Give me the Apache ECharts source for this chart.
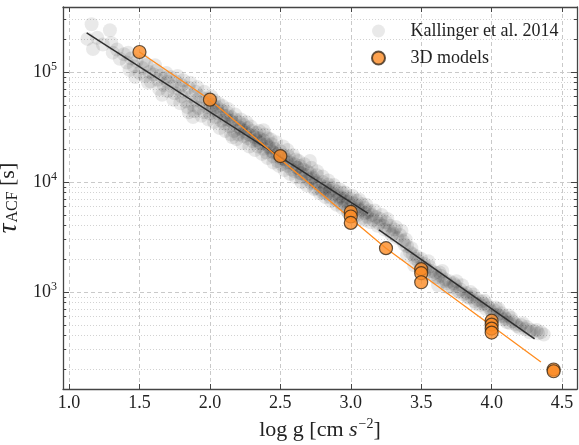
<!DOCTYPE html>
<html>
<head>
<meta charset="utf-8">
<script src="https://cdn.jsdelivr.net/npm/echarts@6/dist/echarts.min.js"></script>
<style>
html,body{margin:0;padding:0;background:#fff;}
#chart{width:579px;height:445px;}
</style>
</head>
<body>
<div id="chart"></div>
<script>
// ---------- data ----------
const xTicks = [1.0, 1.5, 2.0, 2.5, 3.0, 3.5, 4.0, 4.5];
const yMajorTicks = [1000, 10000, 100000];
const xRange = [0.957, 4.606];
const yRange = [131, 390000];

// Kallinger et al. 2014 : [log g, tau_ACF (s)]
const kallinger = [
[1.13,200000],[1.16,272000],[1.17,162000],[1.2,205000],[1.24,178000],[1.29,240000],[1.3,184000],[1.31,150000],[1.34,160000],[1.36,132000],
[1.39,145000],[1.41,122000],[1.43,104000],[1.44,133000],[1.46,113000],[1.48,126000],[1.5,98000],[1.52,109000],[1.54,92000],[1.55,116000],
[1.57,100000],[1.58,82000],[1.6,95000],[1.62,103000],[1.63,85000],[1.64,70000],[1.65,93000],[1.67,76000],[1.68,88000],[1.7,81000],
[1.7,67000],[1.72,90000],[1.73,74000],[1.75,64000],[1.76,82000],[1.78,70000],[1.8,60000],[1.8,76000],[1.82,66000],[1.83,54000],
[1.85,72000],[1.85,43000],[1.87,60000],[1.88,50000],[1.88,39000],[1.9,66000],[1.9,55000],[1.92,47000],[1.93,60000],[1.95,52000],
[1.96,43000],[1.97,57000],[1.98,48000],[2.0,52000],[2.0,42000],[2.02,46000],[2.03,55000],[2.04,39000],[2.05,48000],[2.06,42000],
[2.08,36000],[2.08,45000],[2.1,40000],[2.1,34000],[2.12,43000],[2.12,37000],[2.14,32000],[2.15,39000],[2.16,35000],[2.16,25500],
[2.17,29000],[2.18,37000],[2.2,32000],[2.2,27000],[2.21,35000],[2.22,30000],[2.24,26000],[2.24,33000],[2.25,29000],[2.27,31000],
[2.27,25000],[2.28,27000],[2.3,29000],[2.3,23500],[2.31,26000],[2.33,24000],[2.33,28000],[2.34,21000],[2.35,25000],[2.36,22500],
[2.38,24000],[2.38,20000],[2.38,29500],[2.4,22000],[2.4,18500],[2.41,25000],[2.42,20500],[2.44,19000],[2.44,22000],[2.45,17000],
[2.46,20000],[2.48,18000],[2.48,15500],[2.5,19000],[2.5,16500],[2.51,14500],[2.52,17500],[2.54,16000],[2.55,14000],[2.56,17000],
[2.57,15000],[2.58,13000],[2.6,14500],[2.6,12500],[2.61,16000],[2.62,13500],[2.64,12000],[2.64,14000],[2.65,11000],[2.66,13000],
[2.68,11500],[2.69,12500],[2.7,10500],[2.71,12000],[2.71,15500],[2.72,9800],[2.73,11000],[2.75,10200],[2.75,8800],[2.76,11500],
[2.78,9500],[2.79,8500],[2.8,10000],[2.8,8000],[2.82,9000],[2.83,7800],[2.84,9500],[2.85,8300],[2.86,7200],[2.87,8800],
[2.88,7700],[2.9,8200],[2.9,6800],[2.92,7400],[2.93,6400],[2.94,8000],[2.95,7000],[2.96,6200],[2.97,7300],[2.98,6600],
[2.98,5500],[3.0,7000],[3.0,6000],[3.02,6400],[3.03,5600],[3.04,6800],[3.05,6000],[3.05,5000],[3.07,5500],[3.08,6300],
[3.1,5200],[3.1,5800],[3.1,4500],[3.12,4800],[3.13,5500],[3.15,5000],[3.16,4500],[3.18,4800],[3.2,4200],[3.21,4600],
[3.23,4000],[3.25,4300],[3.27,3600],[3.28,4000],[3.3,3400],[3.31,3700],[3.33,3100],[3.35,3300],[3.37,2900],[3.38,2700],
[3.4,2600],[3.4,2150],[3.42,2300],[3.44,2200],[3.45,1750],[3.46,2000],[3.48,1900],[3.5,2000],[3.5,1700],[3.52,1800],
[3.52,1450],[3.54,1600],[3.55,1900],[3.56,1700],[3.58,1450],[3.6,1500],[3.62,1350],[3.62,1150],[3.64,1400],[3.65,1550],
[3.66,1250],[3.68,1200],[3.7,1250],[3.72,1100],[3.74,1150],[3.75,1250],[3.76,1020],[3.78,1050],[3.8,950],[3.82,980],
[3.84,880],[3.85,1000],[3.86,900],[3.88,820],[3.9,850],[3.92,760],[3.94,780],[3.95,830],[3.96,700],[3.98,720],
[4.0,660],[4.02,680],[4.04,620],[4.05,700],[4.06,600],[4.08,560],[4.1,570],[4.12,610],[4.13,520],[4.15,540],
[4.18,490],[4.2,470],[4.22,520],[4.24,460],[4.27,430],[4.3,440],[4.33,420],[4.37,410],
[1.42,150000],[1.47,90000],[1.53,125000],[1.56,80000],[1.61,115000],[1.66,62000],[1.69,98000],[1.74,56000],[1.77,92000],[1.79,52000],
[1.81,84000],[1.84,48000],[1.86,80000],[1.89,44000],[1.91,73000],[1.94,40000],[1.96,66000],[1.99,37000],[2.01,60000],[2.03,35000],
[2.06,52000],[2.07,31000],[2.09,49000],[2.11,29000],[2.13,46000],[2.15,27000],[2.18,41000],[2.19,24500],[2.22,37000],[2.23,22500],
[2.26,35000],[2.28,21000],[2.29,32000],[2.32,19500],[2.35,29000],[2.37,18000],[2.39,27000],[2.41,16500],[2.43,24500],[2.45,15000],
[2.47,23000],[2.49,14000],[2.52,21000],[2.53,12800],[2.55,19500],[2.57,11800],[2.59,17500],[2.61,11000],[2.63,15500],[2.65,10000],
[2.67,14500],[2.69,9300],[2.72,13500],[2.74,8600],[2.76,12500],[2.78,7900],[2.8,11200],[2.82,7300],[2.84,10300],[2.86,6700],
[2.88,9400],[2.9,6200],[2.92,8600],[2.94,5800],[2.96,8000],[2.98,5300],[3.01,7500],[3.03,5000],[3.06,6900],[3.08,4700],
[3.11,6200],[3.14,4300],[3.17,5500],[3.19,4000],[3.22,5000],[3.24,3700],[3.26,4600],[3.29,3300],[3.32,3900],[3.36,3600],
[3.39,3000],
[2.05,45000],[2.15,36000],[2.25,28000],[2.35,23000],[2.45,18500],[2.55,15000],[2.65,12000],[2.75,9800],[2.85,8000],[2.95,6700],
[3.05,5700],[2.02,50000],[2.22,31000],[2.42,21000],[2.62,13500],[2.82,8700],[2.12,40000],[2.32,25500],[2.52,16200],[2.72,10700],
[2.92,7200],[3.12,5300],
[3.43,2500],[3.47,2100],[3.53,1650],[3.57,1550],[3.6,1350],[3.63,1500],[3.67,1300],[3.69,1100],[3.73,1200],[3.77,1000],
[3.79,1150],[3.83,900],[3.87,950],[3.89,780],[3.93,820],[3.97,760],[4.01,620],[4.03,720],[4.07,640],[4.09,600],
[4.11,530],[4.14,580],[4.17,510],[4.21,500],[4.25,480],[4.28,450],[4.32,450],[4.35,430]
];

// 3D models : [log g, tau_ACF (s)]
const models = [
[1.5,152000],[2.0,56000],[2.5,17200],[3.0,5340],[3.0,4850],[3.0,4240],[3.25,2500],
[3.5,1610],[3.5,1480],[3.5,1225],[4.0,548],[4.0,505],[4.0,464],[4.0,427],[4.44,197],[4.44,190]
];

// fitted lines
const blackFitLow = [[1.125,227000],[3.123,5190]];
const blackFitHigh = [[3.2,3660],[4.305,374]];
const orangeLine = [[1.5,152000],[2.0,56000],[3.25,2500],[4.35,231]];

// ---------- chart ----------
const FONT = 'Liberation Serif';
const TXT = '#222';
const minorY = [];
for (let k = 2; k <= 5; k++) {
  for (let m = 2; m <= 9; m++) {
    const v = m * Math.pow(10, k);
    if (v > yRange[0] && v < yRange[1]) minorY.push(Math.log10(v));
  }
}
const spineColor = '#444';

const chart = echarts.init(document.getElementById('chart'), null, {renderer: 'canvas'});
chart.setOption({
  animation: false,
  backgroundColor: '#fff',
  grid: {left: 63, right: 2, top: 7, bottom: 56, containLabel: false, outerBoundsMode: 'none'},
  legend: {
    data: ['Kallinger et al. 2014', '3D models'],
    orient: 'vertical',
    left: 366, top: 17,
    itemWidth: 54, itemHeight: 13, itemGap: 9,
    symbolKeepAspect: true,
    textStyle: {fontFamily: FONT, fontSize: 18, color: TXT, lineHeight: 17},
    selectedMode: false
  },
  xAxis: [{
    type: 'value', min: xRange[0], max: xRange[1], position: 'bottom',
    name: '{a|log g [cm }{i|s}{sup|−2}{a|]}',
    nameLocation: 'middle', nameGap: 18,
    nameTextStyle: {rich: {
      a: {fontFamily: FONT, fontSize: 22, color: TXT},
      i: {fontFamily: FONT, fontSize: 22, fontStyle: 'italic', color: TXT},
      sup: {fontFamily: FONT, fontSize: 14, color: TXT, padding: [0, 0, 13, 1]}
    }},
    axisLine: {show: true, onZero: false, lineStyle: {color: spineColor, width: 1.3}},
    axisTick: {show: true, inside: true, length: 5, customValues: xTicks, lineStyle: {color: spineColor}},
    axisLabel: {customValues: xTicks, formatter: v => v.toFixed(1), fontFamily: FONT, fontSize: 18, color: TXT, margin: 5},
    splitLine: {show: true, lineStyle: {color: '#c9c9c9', type: [4, 3], width: 1}}
  }, {
    type: 'value', min: xRange[0], max: xRange[1], position: 'top',
    axisLine: {show: true, onZero: false, lineStyle: {color: spineColor, width: 1.3}},
    axisTick: {show: true, inside: true, length: 5, customValues: xTicks, lineStyle: {color: spineColor}},
    axisLabel: {show: false},
    splitLine: {show: false}
  }],
  yAxis: [{
    type: 'log', logBase: 10, min: yRange[0], max: yRange[1], position: 'left',
    name: '{t|τ}{sub|ACF}{a| [s]}',
    nameLocation: 'middle', nameGap: 35, nameRotate: 90,
    nameTextStyle: {rich: {
      t: {fontFamily: FONT, fontSize: 27, fontStyle: 'italic', color: TXT},
      sub: {fontFamily: FONT, fontSize: 16, color: TXT, padding: [9, 0, 0, 1]},
      a: {fontFamily: FONT, fontSize: 22, color: TXT}
    }},
    axisLine: {show: true, onZero: false, lineStyle: {color: spineColor, width: 1.3}},
    axisTick: {show: true, inside: true, length: 6, lineStyle: {color: spineColor}},
    axisLabel: {
      formatter: function (v) {
        const e = Math.log10(v);
        if (Math.abs(e - Math.round(e)) < 1e-6) return '{b|10}{s|' + Math.round(e) + '}';
        return '';
      },
      margin: 6,
      rich: {
        b: {fontFamily: FONT, fontSize: 18, color: TXT},
        s: {fontFamily: FONT, fontSize: 12, color: TXT, padding: [0, 0, 11, 0]}
      }
    },
    splitLine: {show: true, lineStyle: {color: '#c9c9c9', type: [4, 3], width: 1}}
  }, {
    type: 'log', logBase: 10, min: yRange[0], max: yRange[1], position: 'right',
    axisLine: {show: true, onZero: false, lineStyle: {color: spineColor, width: 1.3}},
    axisTick: {show: true, inside: true, length: 6, lineStyle: {color: spineColor}},
    axisLabel: {show: false},
    splitLine: {show: false}
  }, {
    type: 'value', min: Math.log10(yRange[0]), max: Math.log10(yRange[1]), position: 'left',
    axisLine: {show: false},
    axisTick: {show: true, inside: true, length: 3, customValues: minorY, lineStyle: {color: spineColor}},
    axisLabel: {show: false},
    splitLine: {show: true, lineStyle: {color: '#d2d2d2', type: [1, 2], width: 1}}
  }, {
    type: 'value', min: Math.log10(yRange[0]), max: Math.log10(yRange[1]), position: 'right',
    axisLine: {show: false},
    axisTick: {show: true, inside: true, length: 3, customValues: minorY, lineStyle: {color: spineColor}},
    axisLabel: {show: false},
    splitLine: {show: false}
  }],
  series: [{
    name: 'Kallinger et al. 2014', type: 'scatter', data: kallinger,
    symbol: 'circle', symbolSize: 14, z: 2,
    itemStyle: {color: 'rgba(0,0,0,0.11)'},
    emphasis: {disabled: true}
  }, {
    name: 'fitLow', type: 'line', data: blackFitLow, showSymbol: false, z: 3,
    lineStyle: {color: '#2e2e2e', width: 1.5}, emphasis: {disabled: true}
  }, {
    name: 'fitHigh', type: 'line', data: blackFitHigh, showSymbol: false, z: 3,
    lineStyle: {color: '#2e2e2e', width: 1.5}, emphasis: {disabled: true}
  }, {
    name: 'orangeLine', type: 'line', data: orangeLine, showSymbol: false, z: 4,
    lineStyle: {color: '#ff8c1f', width: 1.3}, emphasis: {disabled: true}
  }, {
    name: '3D models', type: 'scatter', data: models,
    symbol: 'circle', symbolSize: 13, z: 5,
    itemStyle: {color: '#fb8b24', borderColor: '#3a2a1a', borderWidth: 1.2},
    emphasis: {disabled: true}
  }]
});
</script>
</body>
</html>
